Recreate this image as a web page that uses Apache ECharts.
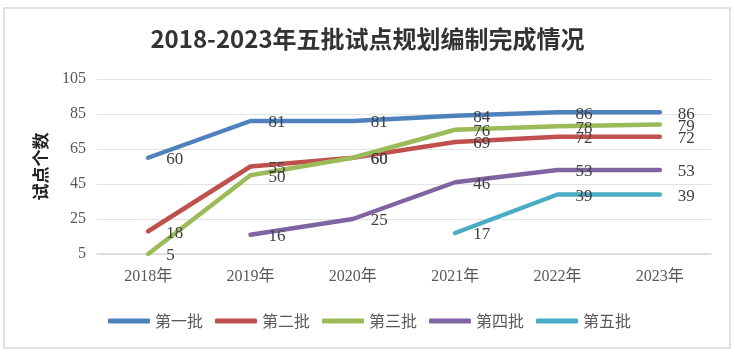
<!DOCTYPE html>
<html>
<head>
<meta charset="utf-8">
<script src="https://cdn.jsdelivr.net/npm/echarts@6/dist/echarts.min.js"></script>
<style>
  html, body { margin: 0; padding: 0; background: #fff; }
  #main { width: 735px; height: 354px; }
</style>
</head>
<body>
<div id="main"></div>
<script>
let years = ["2018年", "2019年", "2020年", "2021年", "2022年", "2023年"];
let batch1 = [60, 81, 81, 84, 86, 86];
let batch2 = [18, 55, 60, 69, 72, 72];
let batch3 = [5, 50, 60, 76, 78, 79];
let batch4 = ["-", 16, 25, 46, 53, 53];
let batch5 = ["-", "-", "-", 17, 39, 39];
let names = ["第一批", "第二批", "第三批", "第四批", "第五批"];
let colors = ["#4f81bd", "#c0504d", "#9bbb59", "#8064a2", "#4bacc6"];

let serif = '"Liberation Serif", "Times New Roman", "Noto Sans CJK SC", serif';
let chart = echarts.init(document.getElementById("main"));

function makeSeries(name, data, color) {
  return {
    name: name,
    type: "line",
    data: data,
    symbol: "circle",
    showSymbol: true,
    symbolSize: 2,
    lineStyle: { width: 4.5, color: color, cap: "round", join: "round" },
    itemStyle: { color: color },
    label: {
      show: true,
      position: "right",
      distance: 17,
      offset: [0, 2],
      color: "#404040",
      fontFamily: serif,
      fontSize: 17,
    },
  };
}

let option = {
  backgroundColor: "#fff",
  animation: false,
  color: colors,
  graphic: [
    {
      type: "rect",
      shape: { x: 4, y: 8, width: 726, height: 340 },
      style: { fill: "none", stroke: "#d9d9d9", lineWidth: 1.5 },
      silent: true,
    },
  ],
  title: {
    text: "2018-2023年五批试点规划编制完成情况",
    left: "center",
    top: 22,
    textStyle: {
      fontFamily: '"Noto Sans CJK SC", sans-serif',
      fontWeight: "bold",
      fontSize: 24,
      color: "#333",
    },
  },
  legend: {
    data: names,
    left: 103,
    top: 308,
    icon: "roundRect",
    itemWidth: 42,
    itemHeight: 5,
    itemGap: 12,
    textStyle: {
      fontFamily: '"Noto Sans CJK SC", serif',
      fontSize: 16,
      color: "#595959",
    },
  },
  grid: { left: 97, right: 24, top: 79, bottom: 100 },
  xAxis: {
    type: "category",
    data: years,
    boundaryGap: true,
    axisTick: { show: false },
    axisLine: { lineStyle: { color: "#d9d9d9", width: 1.5 } },
    axisLabel: {
      margin: 15,
      color: "#595959",
      fontFamily: serif,
      fontSize: 16,
    },
  },
  yAxis: {
    type: "value",
    min: 5,
    max: 105,
    interval: 20,
    name: "试点个数",
    nameLocation: "middle",
    nameGap: 48,
    nameTextStyle: {
      fontFamily: '"Noto Sans CJK SC", sans-serif',
      fontWeight: "bold",
      fontSize: 17,
      color: "#222",
    },
    axisLine: { show: false },
    axisTick: { show: false },
    axisLabel: {
      margin: 11,
      color: "#595959",
      fontFamily: serif,
      fontSize: 16,
    },
    splitLine: { lineStyle: { color: "#e3e3e3", width: 1 } },
  },
  series: [
    makeSeries(names[0], batch1, colors[0]),
    makeSeries(names[1], batch2, colors[1]),
    makeSeries(names[2], batch3, colors[2]),
    makeSeries(names[3], batch4, colors[3]),
    makeSeries(names[4], batch5, colors[4]),
  ],
};
option && chart.setOption(option);
</script>
</body>
</html>
